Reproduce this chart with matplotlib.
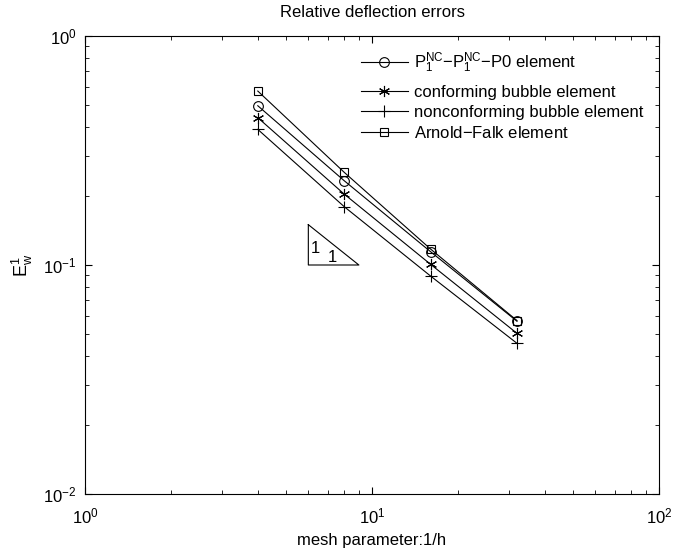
import matplotlib
matplotlib.use("Agg")
import matplotlib.pyplot as plt
from matplotlib.ticker import LogLocator, NullFormatter

plt.rcParams['font.family'] = ['Liberation Sans', 'DejaVu Sans']
plt.rcParams['mathtext.fontset'] = 'custom'
plt.rcParams['mathtext.rm'] = 'Liberation Sans'
plt.rcParams['mathtext.it'] = 'Liberation Sans:italic'
plt.rcParams['mathtext.bf'] = 'Liberation Sans:bold'

# data
mesh = [4, 8, 16, 32]
p1nc = [0.496, 0.2334, 0.1143, 0.0568]
conf_bubble = [0.440, 0.204, 0.1007, 0.0503]
nonconf_bubble = [0.391, 0.1798, 0.0895, 0.0455]
arnold_falk = [0.575, 0.254, 0.1174, 0.0572]
labels = [r'$\mathrm{P_1^{NC}}$$-$$\mathrm{P_1^{NC}}$$-$P0 element',
          'conforming bubble element',
          'nonconforming bubble element',
          'Arnold$-$Falk element']
tri_x = [6, 6, 9, 6]
tri_y = [0.15, 0.1, 0.1, 0.15]

FS = 12

fig = plt.figure(figsize=(6.74, 5.49), dpi=100)
ax = fig.add_axes([85/674, 1-494/549, (659-85)/674, (494-36)/549])

kw = dict(color='black', linewidth=0.8, markerfacecolor='none', markeredgecolor='black', markeredgewidth=0.8)
star = (6, 2, 0)
h0, = ax.loglog(mesh, p1nc, marker='o', markersize=7, label=labels[0], **kw)
h1, = ax.loglog(mesh, conf_bubble, marker=star, markersize=8, label=labels[1], **kw)
h2, = ax.loglog(mesh, nonconf_bubble, marker='+', markersize=9, label=labels[2], **kw)
h3, = ax.loglog(mesh, arnold_falk, marker='s', markersize=6, label=labels[3], **kw)

ax.plot(tri_x, tri_y, color='black', linewidth=0.8)
ax.text(6.1, 0.118, '1', fontsize=FS, ha='left', va='center')
ax.text(7.3, 0.1, '1', fontsize=FS, ha='center', va='bottom')

ax.set_xlim(1, 100)
ax.set_ylim(0.01, 1)
ax.xaxis.set_minor_locator(LogLocator(base=10, subs=range(2, 10)))
ax.yaxis.set_minor_locator(LogLocator(base=10, subs=range(2, 10)))
ax.xaxis.set_minor_formatter(NullFormatter())
ax.yaxis.set_minor_formatter(NullFormatter())
ax.tick_params(which='both', direction='in', top=True, right=True, labelsize=FS)
ax.tick_params(which='major', length=5)
ax.tick_params(which='minor', length=3)
ax.tick_params(axis='x', which='major', pad=9)
ax.tick_params(axis='y', which='major', pad=6)
for s in ax.spines.values():
    s.set_linewidth(0.8)

ax.set_title('Relative deflection errors', fontsize=FS, pad=14)
ax.set_xlabel('mesh parameter:1/h', fontsize=FS, labelpad=5)
ax.set_ylabel(r'$\mathrm{E_w^1}$', fontsize=FS+1, labelpad=6)

legkw = dict(bbox_transform=fig.transFigure, frameon=False, fontsize=FS,
             handlelength=2.8, handletextpad=0.4, borderpad=0, borderaxespad=0)
leg1 = ax.legend([h0], [labels[0]], loc='center left',
                 bbox_to_anchor=(361/674, 1-63/549), **legkw)
ax.add_artist(leg1)
leg2 = ax.legend([h1, h2, h3], labels[1:], loc='upper left',
                 bbox_to_anchor=(361/674, 1-85/549), labelspacing=0.3, **legkw)

fig.savefig('out.png', dpi=100)
